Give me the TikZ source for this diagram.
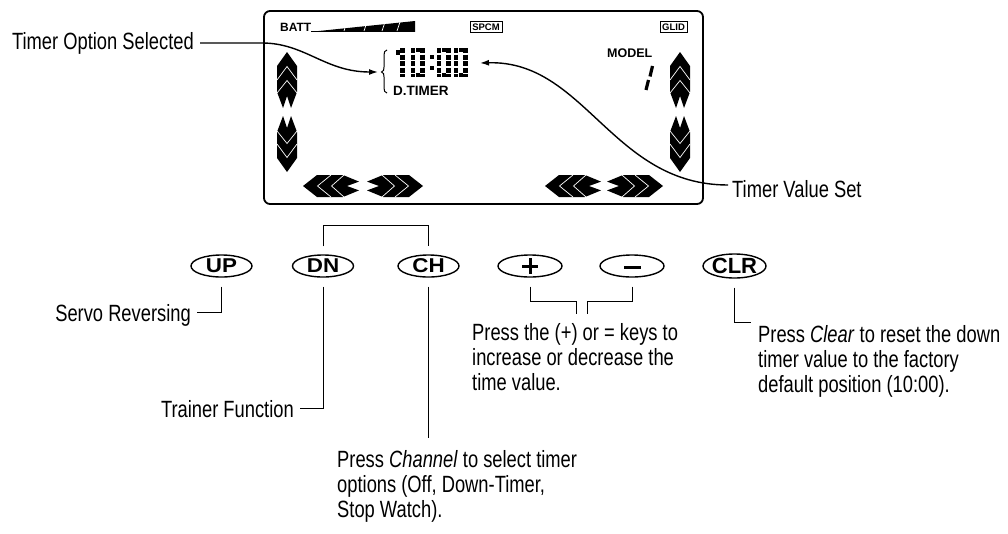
\documentclass[tikz,border=0pt]{standalone}
\usepackage{fontspec}
\setmainfont{Liberation Sans}[FakeStretch=0.78]
\newfontfamily\lcdfont{Liberation Sans}
\newfontfamily\btnfont{Liberation Sans}[FakeStretch=1.12]
\usetikzlibrary{arrows.meta,shapes.geometric}
\tikzset{
  lbl/.style={font=\fontsize{23.5}{25}\selectfont, inner sep=0pt, align=left},
  btn/.style={ellipse, draw, line width=1.4pt, minimum width=61pt, minimum height=22pt, inner sep=0pt},
  btntxt/.style={font=\btnfont\bfseries\fontsize{20}{20}\selectfont},
  ld/.style={line width=0.9pt},
  cv/.style={line width=1.4pt, -{Latex[length=9pt,width=6pt]}},
  lcdtxt/.style={inner sep=0pt, font=\lcdfont\bfseries},
  digbar/.style={line width=4.3pt, dash pattern=on 5pt off 1.6pt},
  halfarr/.pic={
    \fill[black] (0,0) -- (14,10) -- (40,10) -- (56,4) -- (44,0) -- (56,-4) -- (40,-10) -- (14,-10) -- cycle;
    \draw[white, line width=0.7pt] (28,10) -- (14.5,0) -- (28,-10);
    \draw[white, line width=0.7pt] (41,10) -- (28.5,0) -- (41,-10);
  }
}
\begin{document}
\begin{tikzpicture}[x=1pt,y=-1pt]
\useasboundingbox (0,0) rectangle (1008,533);
\fill[white] (0,0) rectangle (1008,533);

% LCD frame
\draw[line width=1.8pt, rounded corners=6pt] (264,11) rectangle (703,204);

% battery
\node[lcdtxt, anchor=base west, font=\lcdfont\bfseries\fontsize{12}{12}\selectfont] (batt) at (280,31.5) {BATT};
\fill (311,31.8) -- (415,21) -- (415,31.8) -- cycle;
\draw[line width=0.8pt] (311,31.5) -- (415,31.5);
\foreach \xx in {347,367,385,400} \draw[white, line width=0.7pt] (\xx,22) -- (\xx-3,31);

% mode boxes
\node[draw, line width=0.8pt, minimum width=32pt, minimum height=10.5pt, inner sep=0pt, font=\lcdfont\bfseries\fontsize{9.5}{10}\selectfont] (spcm) at (486,27) {SPCM};
\node[draw, line width=0.8pt, minimum width=27pt, minimum height=10.5pt, inner sep=0pt, font=\lcdfont\bfseries\fontsize{9.5}{10}\selectfont] (glid) at (673.5,27) {GLID};

% model
\node[lcdtxt, anchor=base west, font=\lcdfont\bfseries\fontsize{12.5}{13}\selectfont] (model) at (607,57) {MODEL};
\draw[line width=3.2pt] (652.5,66) -- (650,76.5);
\draw[line width=3.2pt] (648.5,80) -- (646,90);

% timer digits 10:00
\fill (396,50) rectangle (399.5,54.5);
\draw[digbar] (402.5,48) -- (402.5,77);
\foreach \xx in {411,437,454}{
  \draw[digbar] (\xx+1.9,48) -- (\xx+1.9,77);
  \draw[digbar] (\xx+11.4,48) -- (\xx+11.4,77);
  \fill (\xx+4.7,48) rectangle (\xx+8.6,51.8);
  \fill (\xx+4.7,73.2) rectangle (\xx+8.6,77);
}
\fill (430,55) rectangle (433.8,58.8);
\fill (430,66) rectangle (433.8,69.8);
\node[lcdtxt, anchor=base west, font=\lcdfont\bfseries\fontsize{13.5}{14}\selectfont] (dtimer) at (393,95) {D.TIMER};

% brace
\draw[line width=1pt] (387,50) to[out=180,in=90] (384,55) -- (384,67) to[out=-90,in=0] (381.5,72) to[out=0,in=90] (384,77) -- (384,88) to[out=-90,in=180] (387,93);

% arrow pairs
\pic[rotate=-90] at (287,52) {halfarr};
\pic[rotate=90] at (287,172) {halfarr};
\pic[rotate=-90] at (680,52) {halfarr};
\pic[rotate=90] at (680,172) {halfarr};
\pic[yscale=1.1] at (303,186) {halfarr};
\pic[xscale=-1,yscale=1.1] at (423,186) {halfarr};
\pic[yscale=1.1] at (545,186) {halfarr};
\pic[xscale=-1,yscale=1.1] at (663,186) {halfarr};

% top labels
\node[lbl, anchor=base east] (tos) at (194,49) {Timer Option Selected};
\coordinate (tosL) at (200,43);
\coordinate (tosA) at (378,72);
\draw[cv] (tosL) -- (262,43) .. controls (305,43) and (325,72) .. (tosA);

\node[lbl, anchor=base west] (tvs) at (732,197) {Timer Value Set};
\coordinate (tvsL) at (728,185);
\coordinate (tvsA) at (480,63);
\draw[cv] (tvsL) .. controls (612,185) and (585,60) .. (tvsA);

% buttons
\node[btn] (up) at (221.5,266) {};
\node[btntxt] at (up) {UP};
\node[btn] (dn) at (323,266) {};
\node[btntxt] at (dn) {DN};
\node[btn] (ch) at (428.5,266) {};
\node[btntxt] at (ch) {CH};
\node[btn, minimum width=64pt] (plus) at (530,266) {};
\draw[line width=3pt] (522,266) -- (538,266);
\draw[line width=3pt] (530,258) -- (530,274);
\node[btn, minimum width=64pt] (minus) at (632,266) {};
\draw[line width=3pt] (624,267) -- (641,267);
\node[btn, minimum width=63pt, minimum height=24pt] (clr) at (734.5,266) {};
\node[font=\lcdfont\bfseries\fontsize{22}{22}\selectfont, inner sep=0pt] at (clr) {CLR};

% DN-CH bracket
\coordinate (bar) at (0,225);
\draw[ld] ([yshift=8pt]dn.north) -- (dn.north |- bar) -- (ch.north |- bar) -- ([yshift=8pt]ch.north);

% lower labels
\node[lbl, anchor=base east] (sr) at (191,321) {Servo Reversing};
\coordinate (srj) at (197,312);
\draw[ld] ([yshift=-9pt]up.south) |- (srj);

\node[lbl, anchor=base east] (tf) at (294,417) {Trainer Function};
\coordinate (tfj) at (300,408);
\draw[ld] ([yshift=-9pt]dn.south) |- (tfj);

\node[lbl, anchor=north west] (cht) at (337,450) {Press \textit{Channel} to select timer\\options (Off, Down-Timer,\\Stop Watch).};
\coordinate (chj) at (0,438);
\draw[ld] ([yshift=-9pt]ch.south) -- (ch.south |- chj);

\node[lbl, anchor=north west] (pmt) at (472,323) {Press the (+) or = keys to\\increase or decrease the\\time value.};
\coordinate (pj) at (576,314);
\coordinate (mj) at (587,314);
\coordinate (pmbar) at (0,301);
\draw[ld] ([yshift=-9pt]plus.south) -- (plus.south |- pmbar) -- (pj |- pmbar) -- (pj);
\draw[ld] ([yshift=-9pt]minus.south) -- (minus.south |- pmbar) -- (mj |- pmbar) -- (mj);

\node[lbl, anchor=north west] (clrt) at (758,325) {Press \textit{Clear} to reset the down\\timer value to the factory\\default position (10:00).};
\coordinate (clrj) at (751,322);
\draw[ld] ([yshift=-9pt]clr.south) |- (clrj);
\end{tikzpicture}
\end{document}
